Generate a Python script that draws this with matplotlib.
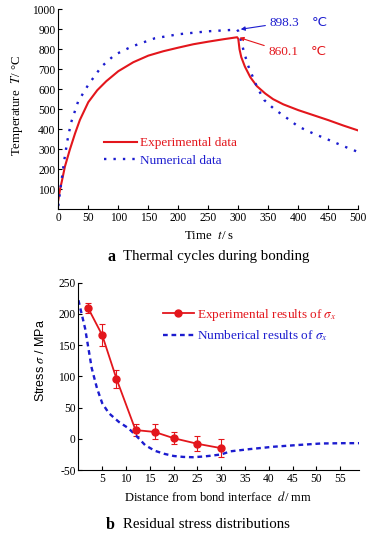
import matplotlib
matplotlib.use('Agg')
import matplotlib.pyplot as plt

plt.rcParams['font.family'] = ['Liberation Serif', 'DejaVu Sans']
plt.rcParams['mathtext.fontset'] = 'stix'
plt.rcParams['axes.unicode_minus'] = False

RED = '#e3161c'
BLUE = '#1c1ccf'

#---datos: ciclo termico--------------------------------------------------
t_exp = [0, 3, 6, 11, 19, 28, 36, 50, 65, 80, 100, 125, 150, 175, 200, 225, 250, 275, 298,
         300, 302, 305, 311, 320, 331, 345, 358, 375, 400, 425, 450, 475, 500]
T_exp = [45, 100, 140, 212, 295, 379, 446, 535, 595, 640, 690, 735, 768, 790, 808, 825, 838, 850, 860.1,
         852, 800, 760, 713, 660, 615, 578, 550, 524, 495, 470, 445, 418, 393]

t_num = [0, 3, 6, 10, 15, 21, 33, 50, 72, 94, 122, 161, 200, 250, 298,
         300, 303, 310, 317, 331, 343, 360, 378, 400, 425, 450, 475, 500]
T_num = [15, 90, 155, 245, 340, 430, 538, 622, 713, 772, 813, 855, 875, 890, 898.3,
         890, 860, 780, 713, 612, 546, 500, 462, 413, 378, 347, 315, 285]

#---datos: tension residual-----------------------------------------------
d_exp = [2, 5, 8, 12, 16, 20, 25, 30]
s_exp = [210, 166, 96, 14, 11, 1, -8, -15]
s_err = [8, 18, 14, 9, 12, 10, 12, 14]

d_num = [0, 1.4, 2.1, 2.8, 3.9, 5, 6.4, 8.5, 10.5, 12, 14, 16, 18, 20, 22, 24, 26, 28,
         30, 32, 36, 41, 46, 51, 56, 59]
s_num = [222, 177, 145, 113, 81, 57, 41, 27, 17, 6, -10, -19, -24, -27.5, -29, -29.5, -28.5, -27,
         -25, -20, -16.5, -12.7, -10, -7.5, -7, -7]

fig = plt.figure(figsize=(3.72, 5.41), dpi=100)

#---grafico a-------------------------------------------------------------
ax1 = fig.add_axes([0.1567, 0.6137, 0.8065, 0.3691])
ax1.plot(t_exp, T_exp, color=RED, lw=1.5, label='Experimental data')
ax1.plot(t_num, T_num, color=BLUE, lw=1.7, linestyle=(0, (1, 3.0)), label='Numerical data')
ax1.set_xlim(0, 500)
ax1.set_ylim(0, 1000)
ax1.set_xticks(range(0, 501, 50))
ax1.set_yticks(range(100, 1001, 100))
for s in ['top', 'right']:
    ax1.spines[s].set_visible(False)
ax1.tick_params(direction='in', labelsize=8.3, length=3, pad=2)
ax1.legend(loc='upper left', bbox_to_anchor=(0.152, 0.36), frameon=False, fontsize=9.5,
           handlelength=2.5, handletextpad=0.25, labelspacing=0.4, borderpad=0,
           borderaxespad=0, labelcolor=[RED, BLUE])

ax1.annotate('898.3', xy=(304, 900), xytext=(352, 933), color=BLUE, fontsize=9.5, va='center',
             arrowprops=dict(arrowstyle='-|>', color=BLUE, lw=0.8, mutation_scale=6, shrinkA=1, shrinkB=0))
ax1.annotate('860.1', xy=(302, 858), xytext=(350, 788), color=RED, fontsize=9.5, va='center',
             arrowprops=dict(arrowstyle='-|>', color=RED, lw=0.8, mutation_scale=6, shrinkA=1, shrinkB=0))
ax1.text(436, 933, '°C', color=BLUE, fontsize=9.5, va='center', ha='center', family='DejaVu Sans')
ax1.text(434, 788, '°C', color=RED, fontsize=9.5, va='center', ha='center', family='DejaVu Sans')

fig.text(0.562, 0.5638, 'Time  $t$/ s', ha='center', va='center', fontsize=9.3)
fig.text(0.045, 0.806, 'Temperature  $T$/ °C', ha='center', va='center', rotation=90, fontsize=9.3)
fig.text(0.288, 0.525, 'a', ha='left', va='center', fontsize=11.5, weight='bold')
fig.text(0.331, 0.525, 'Thermal cycles during bonding', ha='left', va='center', fontsize=10.7)

#---grafico b-------------------------------------------------------------
ax2 = fig.add_axes([0.2108, 0.1312, 0.7549, 0.3462])
h_exp = ax2.errorbar(d_exp, s_exp, yerr=s_err, color=RED, lw=1.3, marker='o', markersize=5,
                     capsize=2.5, elinewidth=0.8, capthick=0.8)
h_num, = ax2.plot(d_num, s_num, color=BLUE, lw=1.7, linestyle=(0, (2, 1.6)))
ax2.set_xlim(0, 59)
ax2.set_ylim(-50, 250)
ax2.set_xticks(range(5, 56, 5))
ax2.set_yticks(range(-50, 251, 50))
for s in ['top', 'right']:
    ax2.spines[s].set_visible(False)
ax2.tick_params(direction='in', labelsize=8.3, length=3, pad=2)
ax2.legend([h_exp[0], h_num],
           ['Experimental results of $\\sigma_x$', 'Numberical results of $\\sigma_x$'],
           loc='upper left', bbox_to_anchor=(0.30, 0.87), frameon=False, fontsize=9.5,
           handlelength=2.4, handletextpad=0.2, labelspacing=0.4, borderpad=0,
           borderaxespad=0, labelcolor=[RED, BLUE])

fig.text(0.585, 0.0813, 'Distance from bond interface  $d$/ mm', ha='center', va='center', fontsize=9.1)
fig.text(0.110, 0.3346, 'Stress $\\sigma$ / MPa', ha='center', va='center', rotation=90,
         fontsize=9, family='Liberation Sans')
fig.text(0.283, 0.0296, 'b', ha='left', va='center', fontsize=11.5, weight='bold')
fig.text(0.330, 0.0296, 'Residual stress distributions', ha='left', va='center', fontsize=10.7)

fig.savefig('out.png', dpi=100)
